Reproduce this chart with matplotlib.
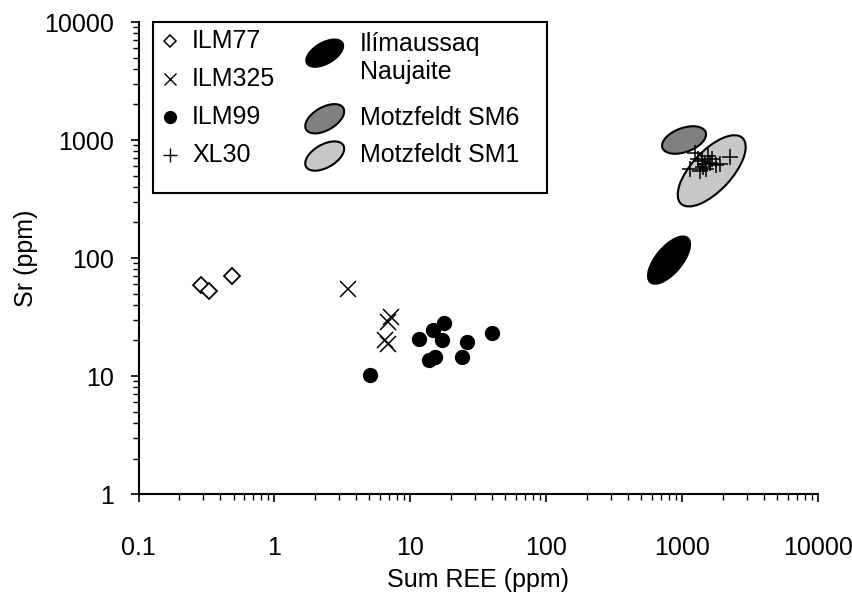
import matplotlib.pyplot as plt
from matplotlib.patches import Ellipse, Rectangle
from matplotlib.transforms import ScaledTranslation
from matplotlib.ticker import LogLocator, FuncFormatter, NullFormatter

plt.rcParams['font.family'] = ['Liberation Sans', 'DejaVu Sans']
plt.rcParams['font.size'] = 18

# sum REE vs Sr, all in ppm
ilm77_ree = [0.29, 0.33, 0.49]
ilm77_sr = [58.5, 53, 70]

ilm325_ree = [3.5, 7.2, 6.8, 6.5, 6.9]
ilm325_sr = [55, 31.4, 28.5, 20.1, 18.8]

ilm99_ree = [5.05, 11.5, 14.8, 17.7, 17.2, 13.8, 15.2, 23.9, 26.0, 40.1]
ilm99_sr = [10.3, 20.7, 24.7, 28.3, 20.1, 13.6, 14.5, 14.5, 19.4, 23.1]

xl30_ree = [1245, 1310, 1143, 1402, 1477, 1553, 1606, 1662, 1500, 1778,
            1426, 1901, 2254, 1356]
xl30_sr = [780, 695, 573, 668, 631, 736, 643, 695, 573, 618,
           595, 631, 723, 551]

# fields from other localities (centre of each field)
field_names = ['Ilímaussaq\nNaujaite', 'Motzfeldt SM6', 'Motzfeldt SM1']
field_ree = [801, 1033, 1651]
field_sr = [96, 1000, 548]

# field outlines: width, height (inches), tilt (deg), face colour
field_shape = [(0.60, 0.28, 50), (0.46, 0.24, 20), (0.90, 0.40, 47)]
field_color = ['black', '#808080', '#c8c8c8']
field_edge = [0.0, 1.5, 1.5]

fig = plt.figure(figsize=(8.53, 5.93), dpi=100)
ax = fig.add_axes([0.1624, 0.1669, 0.7966, 0.796])
ax.set_xscale('log')
ax.set_yscale('log')
ax.set_xlim(0.1, 10000)
ax.set_ylim(1, 10000)

# draw the light field first so the others sit on top
for i in [2, 1, 0]:
    w, h, ang = field_shape[i]
    where = ScaledTranslation(field_ree[i], field_sr[i], ax.transData)
    ax.add_patch(Ellipse((0, 0), w, h, angle=ang,
                         transform=fig.dpi_scale_trans + where,
                         fc=field_color[i], ec='black', lw=field_edge[i],
                         zorder=2))

ax.plot(ilm77_ree, ilm77_sr, ls='none', marker='D', ms=8, mfc='white',
        mec='black', mew=1.3, zorder=4)
ax.plot(ilm325_ree, ilm325_sr, ls='none', marker='x', ms=12, mec='black',
        mew=1.1, zorder=4)
ax.plot(ilm99_ree, ilm99_sr, ls='none', marker='o', ms=10, mfc='black',
        mec='black', zorder=4)
ax.plot(xl30_ree, xl30_sr, ls='none', marker='+', ms=11, mec='black',
        mew=1.1, zorder=4)

# axes styling
for side in ['top', 'right']:
    ax.spines[side].set_visible(False)
for side in ['left', 'bottom']:
    ax.spines[side].set_linewidth(1.5)
for axis in [ax.xaxis, ax.yaxis]:
    axis.set_major_locator(LogLocator(base=10, numticks=10))
    axis.set_minor_locator(LogLocator(base=10, subs=range(2, 10), numticks=10))
    axis.set_major_formatter(FuncFormatter(lambda v, p: '{:g}'.format(v)))
    axis.set_minor_formatter(NullFormatter())
ax.tick_params(which='major', direction='out', length=6, width=1.2)
ax.tick_params(which='minor', direction='out', length=4, width=1)
ax.tick_params(axis='x', which='major', pad=24)
ax.tick_params(axis='y', which='major', pad=12)

ax.set_xlabel('Sum REE (ppm)', labelpad=6)
ax.set_ylabel('Sr (ppm)', labelpad=4)

# legend box drawn by hand (two columns)
ax.add_patch(Rectangle((0.021, 0.638), 0.580, 0.362, transform=ax.transAxes,
                       fc='white', ec='black', lw=1.5, zorder=5,
                       clip_on=False))

rows = [0.960, 0.879, 0.799, 0.718]
marker_kw = [dict(marker='D', ms=6.5, mfc='white', mec='black', mew=1.1),
             dict(marker='x', ms=9, mec='black', mew=1.0),
             dict(marker='o', ms=8.5, mfc='black', mec='black'),
             dict(marker='+', ms=10, mec='black', mew=1.0)]
labels = ['ILM77', 'ILM325', 'ILM99', 'XL30']
for y, kw, lab in zip(rows, marker_kw, labels):
    ax.plot([0.046], [y], ls='none', transform=ax.transAxes, clip_on=False,
            zorder=6, **kw)
    ax.text(0.079, y, lab, transform=ax.transAxes, va='center', ha='left',
            zorder=6)

handle_y = [0.934, 0.795, 0.716]
for i in range(3):
    where = ScaledTranslation(0.274, handle_y[i], ax.transAxes)
    ax.add_patch(Ellipse((0, 0), 0.43, 0.23, angle=30,
                         transform=fig.dpi_scale_trans + where,
                         fc=field_color[i], ec='black', lw=field_edge[i],
                         zorder=6, clip_on=False))
ax.text(0.326, 0.924, field_names[0], transform=ax.transAxes, va='center',
        ha='left', linespacing=1.2, zorder=6)
ax.text(0.326, 0.797, field_names[1], transform=ax.transAxes, va='center',
        ha='left', zorder=6)
ax.text(0.326, 0.718, field_names[2], transform=ax.transAxes, va='center',
        ha='left', zorder=6)

fig.savefig('out.png', dpi=100)
